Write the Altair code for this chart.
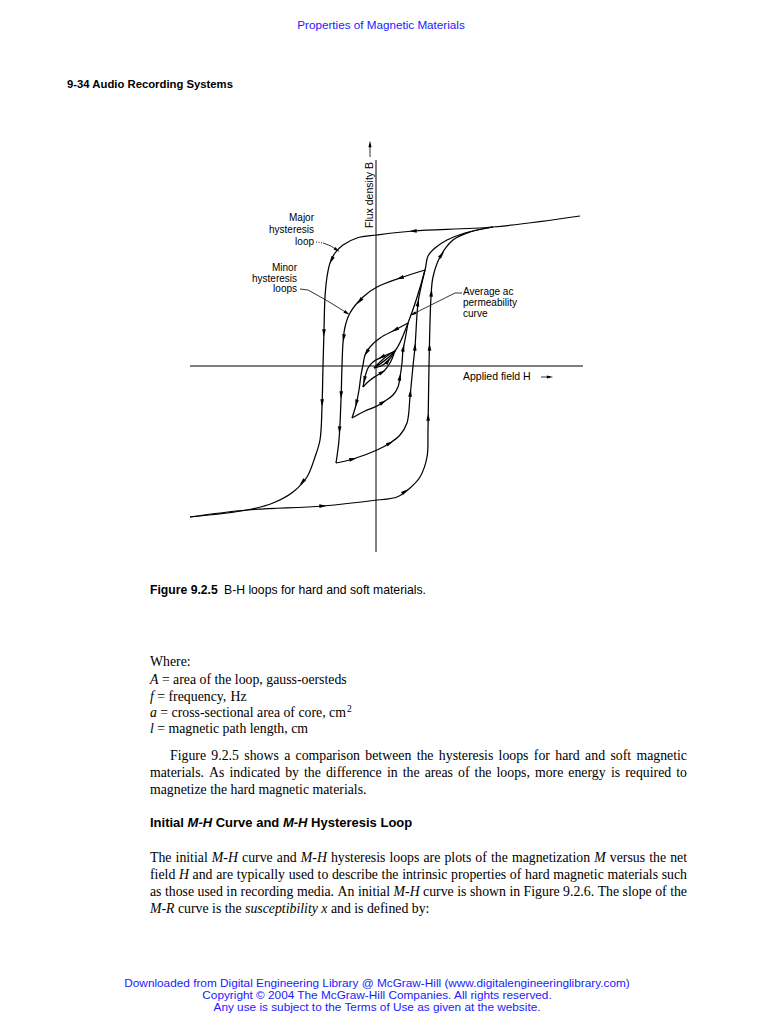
import math
import altair as alt
import pandas as pd

# ---------------- diagram curves (H = applied field, B = flux density; arbitrary units) ----------------
major_down_H = [20.4, 11.7, 3.7, 0.1, -1.9, -3.3, -4.1, -4.6, -4.9, -5.1, -5.2, -5.3, -5.4, -5.6, -6.1, -6.9, -8.3, -10.3, -12.9, -18.6]
major_down_B = [15.0, 13.9, 13.5, 13.1, 12.8, 12.1, 11.3, 10.3, 8.9, 6.9, 3.6, 0.0, -4.1, -7.4, -9.1, -11.1, -12.6, -13.7, -14.4, -15.1]
major_up_H = [-18.6, -12.9, -5.3, 0.1, 2.1, 3.4, 4.4, 5.1, 5.2, 5.3, 5.5, 5.7, 6.4, 7.7, 9.4, 11.7]
major_up_B = [-15.1, -14.4, -14.0, -13.4, -13.1, -12.2, -11.1, -9.1, -6.4, 0.0, 6.9, 8.9, 10.9, 12.6, 13.4, 13.9]

loop1_down_H = [4.9, 2.4, 0.1, -1.3, -2.6, -3.1, -3.3, -3.4, -3.5, -3.7, -4.0]
loop1_down_B = [9.6, 8.8, 7.9, 6.9, 5.3, 3.9, 2.3, 0.0, -3.4, -7.4, -9.7]
loop1_up_H = [-4.0, -2.3, 0.1, 1.4, 2.4, 3.1, 3.4, 3.7, 3.9, 4.2, 4.5, 4.9]
loop1_up_B = [-9.7, -9.3, -8.4, -7.7, -6.9, -5.7, -3.1, 0.0, 1.9, 6.3, 7.9, 9.6]

loop2_down_H = [3.2, 1.9, 0.4, -0.6, -1.1, -1.3, -1.5, -1.7, -2.0, -2.4]
loop2_down_B = [4.3, 3.6, 2.8, 1.9, 1.1, 0.1, -0.9, -2.4, -3.9, -5.2]
loop2_up_H = [-2.4, -1.1, 0.1, 0.9, 1.7, 2.2, 2.4, 2.6, 2.7, 2.9, 3.2]
loop2_up_B = [-5.2, -4.5, -4.0, -3.5, -2.9, -2.1, -1.1, 0.3, 1.6, 2.6, 4.3]

loop3_down_H = [1.9, 0.6, -0.3, -0.8, -1.1, -1.3]
loop3_down_B = [1.5, 0.9, 0.4, -0.2, -1.1, -2.1]
loop3_up_H = [-1.3, -0.7, 0.0, 0.8, 1.4, 1.9]
loop3_up_B = [-2.1, -1.5, -1.0, -0.5, 0.3, 1.5]

lens_down_H = [1.9, 1.1, 0.4, -0.2]
lens_down_B = [1.5, 1.0, 0.4, -0.2]
lens_up_H = [-0.2, 0.5, 1.2, 1.9]
lens_up_B = [-0.2, 0.0, 0.5, 1.5]

ac_curve_H = [-0.2, 1.9, 3.2, 4.9, 5.2, 5.9, 7.1, 8.9, 11.7]
ac_curve_B = [-0.2, 1.5, 4.3, 9.6, 11.0, 11.8, 12.6, 13.3, 13.9]

axis_h_H = [-18.6, 20.7]
axis_h_B = [0.0, 0.0]
axis_v_H = [0.0, 0.0]
axis_v_B = [-18.6, 20.6]

# direction arrows on the loops (branch, H, B)
arrow_branch = (["major_down"] * 5 + ["major_up"] * 6 + ["loop1_down"] * 5 + ["loop1_up"] * 5
                + ["loop2_down"] * 3 + ["loop2_up"] * 3 + ["loop3_down"] * 2 + ["loop3_up"] + ["lens_up"])
arrow_H = [3.7, -4.1, -5.1, -5.4, -7.3,
           -5.3, 2.6, 5.2, 5.6, 5.6, 6.6,
           2.4, -1.4, -3.2, -3.4, -3.7,
           -2.3, 1.4, 3.4, 4.0, 4.3,
           1.9, -0.9, -2.1,
           0.7, 2.4, 2.7,
           0.6, -1.1,
           0.7,
           1.1]
arrow_B = [13.5, 10.4, 3.3, -3.7, -11.7,
           -14.0, -12.1, -5.1, 1.9, 7.3, 11.1,
           8.8, 6.3, 2.8, -2.9, -6.4,
           -9.3, -7.7, -2.7, 1.9, 6.3,
           3.6, 1.3, -3.7,
           -3.6, -1.1, 1.8,
           0.8, -1.4,
           -0.7,
           0.6]

# leader lines of the annotations and the axis-label arrows
lead_major_dot_H = [-6.0, -5.3]
lead_major_dot_B = [12.4, 12.3]
lead_major_H = [-5.3, -4.5, -3.9]
lead_major_B = [12.3, 12.0, 11.6]
lead_minor_H = [-7.6, -6.8, -5.0, -2.9]
lead_minor_B = [7.7, 7.6, 6.6, 5.3]
lead_ac_H = [8.6, 7.9, 3.7]
lead_ac_B = [7.3, 7.3, 5.2]
field_arrow_H = [16.5, 17.4]
field_arrow_B = [-1.1, -1.1]
flux_arrow_H = [-0.6, -0.6]
flux_arrow_B = [20.9, 22.2]

# ---------------- page texts ----------------
header_text = "Properties of Magnetic Materials"
section_text = "9-34 Audio Recording Systems"
label_major = ["Major", "hysteresis", "loop"]
label_minor = ["Minor", "hysteresis", "loops"]
label_ac = ["Average ac", "permeability", "curve"]
label_field = "Applied field H"
label_flux = "Flux density B"
caption_bold = "Figure 9.2.5"
caption_rest = "B-H loops for hard and soft materials."
where_text = "Where:"
# words between asterisks are set in italics
def_lines = ["*A* = area of the loop, gauss-oersteds",
             "*f* = frequency, Hz",
             "*a* = cross-sectional area of core, cm",
             "*l* = magnetic path length, cm"]
def_superscript = "2"
para1 = ["Figure 9.2.5 shows a comparison between the hysteresis loops for hard and soft magnetic",
         "materials. As indicated by the difference in the areas of the loops, more energy is required to",
         "magnetize the hard magnetic materials."]
heading_words = ["Initial", "*M-H*", "Curve", "and", "*M-H*", "Hysteresis", "Loop"]
para2 = ["The initial *M-H* curve and *M-H* hysteresis loops are plots of the magnetization *M* versus the net",
         "field *H* and are typically used to describe the intrinsic properties of hard magnetic materials such",
         "as those used in recording media. An initial *M-H* curve is shown in Figure 9.2.6. The slope of the",
         "*M-R* curve is the *susceptibility* *x* and is defined by:"]
footer = ["Downloaded from Digital Engineering Library @ McGraw-Hill (www.digitalengineeringlibrary.com)",
          "Copyright \u00a9 2004 The McGraw-Hill Companies. All rights reserved.",
          "Any use is subject to the Terms of Use as given at the website."]

# ---------------- build tables ----------------
def table(named):
    rows = []
    for name, (hs, bs) in named.items():
        for i, (h, b) in enumerate(zip(hs, bs)):
            rows.append({"branch": name, "i": i, "H": h, "B": b})
    return pd.DataFrame(rows)

curves = {
    "major_down": (major_down_H, major_down_B),
    "major_up": (major_up_H, major_up_B),
    "loop1_down": (loop1_down_H, loop1_down_B),
    "loop1_up": (loop1_up_H, loop1_up_B),
    "loop2_down": (loop2_down_H, loop2_down_B),
    "loop2_up": (loop2_up_H, loop2_up_B),
    "loop3_down": (loop3_down_H, loop3_down_B),
    "loop3_up": (loop3_up_H, loop3_up_B),
    "lens_down": (lens_down_H, lens_down_B),
    "lens_up": (lens_up_H, lens_up_B),
    "ac": (ac_curve_H, ac_curve_B),
}
curve_df = table(curves)
axes_df = table({"h": (axis_h_H, axis_h_B), "v": (axis_v_H, axis_v_B)})
lead_df = table({"major": (lead_major_H, lead_major_B), "minor": (lead_minor_H, lead_minor_B),
                 "ac": (lead_ac_H, lead_ac_B), "field": (field_arrow_H, field_arrow_B),
                 "flux": (flux_arrow_H, flux_arrow_B)})
dot_df = table({"dot": (lead_major_dot_H, lead_major_dot_B)})


def snap(hs, bs, h, b):
    best = None
    for k in range(len(hs) - 1):
        ax, ay, bx, by = hs[k], bs[k], hs[k + 1], bs[k + 1]
        dx, dy = bx - ax, by - ay
        l2 = dx * dx + dy * dy
        t = max(0.0, min(1.0, ((h - ax) * dx + (b - ay) * dy) / l2))
        px, py = ax + t * dx, ay + t * dy
        d = (px - h) ** 2 + (py - b) ** 2
        if best is None or d < best[0]:
            best = (d, px, py, dx, dy)
    _, px, py, dx, dy = best
    return px, py, math.degrees(math.atan2(dx, dy)) % 360


arrows = []
for name, h, b in zip(arrow_branch, arrow_H, arrow_B):
    hs, bs = curves[name]
    px, py, ang = snap(hs, bs, h, b)
    arrows.append({"H": px, "B": py, "angle": ang})
arrow_df = pd.DataFrame(arrows)

lead_heads = []
for hs, bs in [(lead_major_H, lead_major_B), (lead_minor_H, lead_minor_B), (lead_ac_H, lead_ac_B),
               (field_arrow_H, field_arrow_B), (flux_arrow_H, flux_arrow_B)]:
    dx, dy = hs[-1] - hs[-2], bs[-1] - bs[-2]
    lead_heads.append({"H": hs[-1], "B": bs[-1], "angle": math.degrees(math.atan2(dx, dy)) % 360})
lead_head_df = pd.DataFrame(lead_heads)

# ---------------- encodings ----------------
xs = alt.Scale(domain=[-20, 20], range=[168, 568])
ys = alt.Scale(domain=[-20, 20], range=[558, 158])
X = alt.X("H:Q", scale=xs, axis=None)
Y = alt.Y("B:Q", scale=ys, axis=None)
ARROW = "M0,-1L0.5,1L-0.5,1Z"

axes_layer = alt.Chart(axes_df).mark_line(color="black", strokeWidth=1).encode(
    x=X, y=Y, detail="branch:N", order="i:Q")
curve_layer = alt.Chart(curve_df).mark_line(color="black", strokeWidth=1.25, interpolate="catmull-rom").encode(
    x=X, y=Y, detail="branch:N", order="i:Q")
lead_layer = alt.Chart(lead_df).mark_line(color="black", strokeWidth=0.8).encode(
    x=X, y=Y, detail="branch:N", order="i:Q")
dot_layer = alt.Chart(dot_df).mark_line(color="black", strokeWidth=0.9, strokeDash=[1, 1.5]).encode(
    x=X, y=Y, detail="branch:N", order="i:Q")
arrow_layer = alt.Chart(arrow_df).mark_point(shape=ARROW, filled=True, color="black", opacity=1, size=55).encode(
    x=X, y=Y, angle=alt.Angle("angle:Q", scale=None))
lead_head_layer = alt.Chart(lead_head_df).mark_point(shape=ARROW, filled=True, color="black", opacity=1, size=40).encode(
    x=X, y=Y, angle=alt.Angle("angle:Q", scale=None))

one = pd.DataFrame({"k": [0]})


def txt(s, x, y, size, font="Liberation Sans", weight="normal", style="normal", color="black",
        align="left", angle=0):
    return alt.Chart(one).mark_text(text=s, font=font, fontSize=size, fontWeight=weight, fontStyle=style,
                                    color=color, align=align, baseline="middle", angle=angle).encode(
        x=alt.value(x - 8), y=alt.value(y - 8))


# ---- word-by-word layout of the body (justified like the printed page) ----
TIMES_R = dict(zip("ABCDEFGHIJKLMNOPQRSTUVWXYZ", [722, 667, 667, 722, 611, 556, 722, 722, 333, 389, 722, 611, 889,
                                                   722, 722, 556, 722, 667, 556, 611, 722, 722, 944, 722, 722, 611]))
TIMES_R.update(dict(zip("abcdefghijklmnopqrstuvwxyz", [444, 500, 444, 500, 444, 333, 500, 500, 278, 278, 500, 278, 778,
                                                       500, 500, 500, 500, 333, 389, 278, 500, 500, 722, 500, 500, 444])))
TIMES_R.update({c: 500 for c in "0123456789"})
TIMES_R.update({" ": 250, ".": 250, ",": 250, ":": 278, "-": 333, "=": 564})
TIMES_I = dict(TIMES_R)
TIMES_I.update({"A": 611, "f": 278, "M": 833, "H": 722, "R": 611, "l": 278, "x": 444, "s": 389, "u": 500,
                "c": 444, "e": 444, "p": 500, "t": 278, "i": 278, "b": 500, "y": 444, "a": 500})
ARIAL_B = {c: w for c, w in zip("InitalM-HCurvedysLop ", [278, 611, 278, 333, 556, 278, 833, 333, 722, 722, 611, 389,
                                                          556, 556, 611, 556, 556, 611, 611, 611, 278])}


def to_H(px):
    return (px - 376) / 10


def to_B(py):
    return (366 - py) / 10


def layout(words, x0, y, size, table_r, table_i, right=None):
    toks = [(w.strip("*"), w.startswith("*")) for w in words]
    widths = [sum((table_i if it else table_r).get(c, 500) for c in w) * size / 1000 for w, it in toks]
    gap = table_r[" "] * size / 1000
    if right is not None and len(toks) > 1:
        gap = (right - x0 - sum(widths)) / (len(toks) - 1)
    rows, x = [], x0
    for (w, it), wd in zip(toks, widths):
        rows.append({"w": w, "H": to_H(x), "B": to_B(y), "it": it})
        x += wd + gap
    return rows, x - gap


BODY = 13.8
body_rows = []
sup_x = 350
for line, yy in zip(def_lines, [680, 697, 713, 729]):
    r, end = layout(line.split(" "), 150, yy, BODY, TIMES_R, TIMES_I)
    body_rows += r
    if "core" in line:
        sup_x = end + 1
for k, (line, yy) in enumerate(zip(para1, [756, 773, 790])):
    r, _ = layout(line.split(" "), 170 if k == 0 else 150, yy, BODY, TIMES_R, TIMES_I,
                  right=687 if k < len(para1) - 1 else None)
    body_rows += r
for k, (line, yy) in enumerate(zip(para2, [858, 875, 892, 909])):
    r, _ = layout(line.split(" "), 150, yy, BODY, TIMES_R, TIMES_I,
                  right=687 if k < len(para2) - 1 else None)
    body_rows += r
body_df = pd.DataFrame(body_rows)

HEAD = 13.0
head_rows, _ = layout(heading_words, 150, 823, HEAD, ARIAL_B, ARIAL_B)
head_df = pd.DataFrame(head_rows)


def word_layer(df, italic, font, size, weight="normal"):
    return alt.Chart(df[df["it"] == italic]).mark_text(
        font=font, fontSize=size, fontWeight=weight, fontStyle="italic" if italic else "normal",
        align="left", baseline="middle", color="black").encode(x=X, y=Y, text="w:N")


BLUE = "#1a1aff"
SERIF = "Liberation Serif"
texts = []
texts.append(txt(header_text, 381, 25, 11.7, color=BLUE, align="center"))
texts.append(txt(section_text, 67, 85, 11.3, weight="bold"))
for s, yy in zip(label_major, [218, 230, 242]):
    texts.append(txt(s, 314, yy, 10, align="right"))
for s, yy in zip(label_minor, [268, 279, 289]):
    texts.append(txt(s, 297, yy, 10, align="right"))
for s, yy in zip(label_ac, [292, 303, 314]):
    texts.append(txt(s, 463, yy, 10))
texts.append(txt(label_field, 463, 377, 10.5))
texts.append(txt(label_flux, 370, 195, 10.5, align="center", angle=270))
texts.append(txt(caption_bold, 150, 590, 12.2, weight="bold"))
texts.append(txt(caption_rest, 224, 590, 12.2))
texts.append(txt(where_text, 150, 662, BODY, font=SERIF))
texts.append(txt(def_superscript, sup_x, 709, 9.5, font=SERIF))
for s, yy in zip(footer, [983, 995, 1007]):
    texts.append(txt(s, 377, yy, 11.8, color=BLUE, align="center"))

words = [word_layer(body_df, False, SERIF, BODY), word_layer(body_df, True, SERIF, BODY),
         word_layer(head_df, False, "Liberation Sans", HEAD, "bold"),
         word_layer(head_df, True, "Liberation Sans", HEAD, "bold")]

chart = alt.layer(axes_layer, curve_layer, lead_layer, dot_layer, arrow_layer, lead_head_layer,
                  *words, *texts).properties(
    width=743, height=1006, padding=0, autosize=alt.AutoSizeParams(type="none"), background="white"
).configure_view(stroke="transparent")

chart.save("out.html", embed_options={"renderer": "svg", "actions": False})
